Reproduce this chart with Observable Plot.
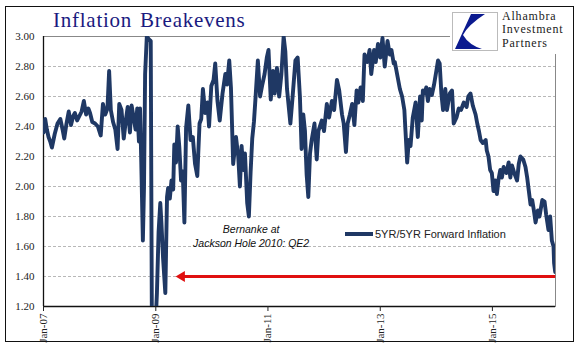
<!DOCTYPE html>
<html>
<head>
<meta charset="utf-8">
<script src="https://cdn.jsdelivr.net/npm/d3@7"></script>
<script src="https://cdn.jsdelivr.net/npm/@observablehq/plot@0.6"></script>
<style>
  html, body { margin: 0; padding: 0; background: #fff; }
  #wrap { position: relative; width: 581px; height: 361px; overflow: hidden; background: #fff; }
  #outer { position: absolute; left: 5px; top: 6px; width: 569px; height: 336px; border: 1.3px solid #111; box-sizing: border-box; pointer-events: none; }
  #title { position: absolute; left: 53px; top: 8px; font-family: "Liberation Serif", "DejaVu Serif", serif; font-size: 21px; color: #1a1a80; letter-spacing: 0.75px; word-spacing: 2px; white-space: nowrap; }
  #logo { position: absolute; left: 450px; top: 8px; width: 123px; height: 46px; background: #fff; }
  #logo svg { position: absolute; left: 2px; top: 4px; }
  #logoText { position: absolute; left: 52px; top: 2px; font-family: "Liberation Serif", "DejaVu Serif", serif; font-size: 12px; line-height: 13.4px; letter-spacing: 0.8px; color: #222; white-space: nowrap; }
  #logoText div { height: 13.4px; }
  #legend { position: absolute; left: 345px; top: 228px; display: flex; align-items: center; font-family: "Liberation Sans", Arial, sans-serif; font-size: 11px; color: #222; white-space: nowrap; }
  #legend .sw { width: 28px; height: 3.5px; background: #1f3864; margin-right: 2px; }
  #plot { position: absolute; left: 0; top: 0; }
</style>
</head>
<body>
<div id="wrap">
  <div id="plot"></div>
  <div id="title">Inflation Breakevens</div>
  <div id="logo">
    <svg width="46" height="39" viewBox="0 0 46 39">
      <rect x="0.5" y="0.5" width="45" height="38" fill="#fff" stroke="#bbb" stroke-width="1"/>
      <path d="M19,2 L33,2 Q16,13 11,23 Q17,33 30,37 L3,37 Z" fill="#0b1a8f"/>
    </svg>
    <div id="logoText"><div>Alhambra</div><div>Investment</div><div>Partners</div></div>
  </div>
  <div id="legend"><div class="sw"></div><span>5YR/5YR Forward Inflation</span></div>
  <div id="outer"></div>
</div>
<script>
// ---- data (decimal year, value) ----
const years = [
  2007.00,2007.03,2007.06,2007.09,2007.12,2007.15,2007.20,2007.25,2007.30,2007.34,
  2007.37,2007.41,2007.45,2007.49,2007.53,2007.56,2007.60,2007.64,2007.68,2007.72,
  2007.76,2007.80,2007.83,2007.87,2007.92,2007.97,2008.02,2008.06,2008.10,2008.14,
  2008.17,2008.20,2008.24,2008.28,2008.32,2008.35,2008.39,2008.43,2008.47,2008.50,
  2008.54,2008.57,2008.61,2008.64,2008.67,2008.70,2008.72,2008.74,2008.77,2008.79,
  2008.81,2008.84,2008.88,2008.91,2008.93,2008.97,2009.00,2009.02,2009.05,2009.08,
  2009.10,2009.13,2009.17,2009.20,2009.22,2009.25,2009.28,2009.31,2009.33,2009.36,
  2009.39,2009.42,2009.45,2009.48,2009.51,2009.54,2009.58,2009.62,2009.66,2009.70,
  2009.74,2009.78,2009.81,2009.84,2009.88,2009.92,2009.95,2009.99,2010.03,2010.06,
  2010.10,2010.14,2010.19,2010.24,2010.27,2010.31,2010.34,2010.38,2010.43,2010.47,
  2010.50,2010.53,2010.56,2010.59,2010.63,2010.66,2010.69,2010.72,2010.75,2010.78,
  2010.82,2010.86,2010.90,2010.94,2010.98,2011.01,2011.05,2011.09,2011.12,2011.16,
  2011.20,2011.24,2011.28,2011.31,2011.34,2011.40,2011.44,2011.49,2011.53,2011.57,
  2011.60,2011.63,2011.66,2011.69,2011.72,2011.75,2011.78,2011.83,2011.87,2011.90,
  2011.96,2012.00,2012.05,2012.09,2012.14,2012.18,2012.23,2012.27,2012.32,2012.35,
  2012.39,2012.42,2012.46,2012.50,2012.54,2012.58,2012.61,2012.65,2012.69,2012.72,
  2012.77,2012.81,2012.84,2012.89,2012.92,2012.96,2013.00,2013.04,2013.08,2013.13,
  2013.17,2013.20,2013.24,2013.26,2013.31,2013.35,2013.39,2013.43,2013.45,2013.48,
  2013.51,2013.54,2013.58,2013.63,2013.67,2013.71,2013.74,2013.76,2013.79,2013.82,
  2013.85,2013.88,2013.92,2013.96,2014.00,2014.03,2014.06,2014.09,2014.12,2014.16,
  2014.19,2014.24,2014.28,2014.31,2014.36,2014.40,2014.44,2014.49,2014.54,2014.57,
  2014.61,2014.65,2014.70,2014.73,2014.76,2014.79,2014.83,2014.88,2014.90,2014.93,
  2014.96,2014.99,2015.02,2015.05,2015.08,2015.11,2015.14,2015.17,2015.20,2015.25,
  2015.29,2015.32,2015.35,2015.39,2015.44,2015.47,2015.50,2015.55,2015.59,2015.62,
  2015.65,2015.68,2015.71,2015.74,2015.77,2015.81,2015.84,2015.89,2015.93,2015.96,
  2016.00,2016.03,2016.06,2016.09,2016.10,2016.12
];
const breakevens = [
  2.36,2.45,2.38,2.33,2.30,2.26,2.35,2.42,2.45,2.38,
  2.32,2.42,2.50,2.41,2.47,2.49,2.44,2.47,2.50,2.57,
  2.48,2.52,2.49,2.43,2.42,2.40,2.34,2.55,2.48,2.52,
  2.77,2.51,2.43,2.38,2.25,2.55,2.51,2.32,2.45,2.53,
  2.36,2.54,2.45,2.38,2.52,2.30,2.52,2.19,1.64,1.99,
  2.75,3.00,2.98,2.97,1.10,1.02,1.12,1.29,1.70,1.89,
  1.76,1.52,1.29,1.93,1.99,1.92,2.04,1.98,2.28,2.16,
  2.40,2.26,2.04,2.10,1.76,2.39,2.54,2.31,2.33,2.15,
  2.07,2.42,2.45,2.65,2.49,2.56,2.40,2.67,2.71,2.82,
  2.57,2.44,2.62,2.75,2.68,2.84,2.66,2.15,2.33,2.20,
  2.00,2.27,2.11,2.22,1.89,1.80,2.09,2.32,2.43,2.60,
  2.84,2.60,2.68,2.75,2.86,2.91,2.58,2.77,2.62,2.79,
  2.60,2.75,3.00,2.90,2.65,2.42,2.60,2.84,2.86,2.60,
  2.25,2.48,2.37,2.08,1.93,2.22,2.31,2.42,2.18,2.37,
  2.44,2.37,2.55,2.46,2.57,2.51,2.71,2.64,2.48,2.42,
  2.23,2.42,2.48,2.55,2.41,2.64,2.56,2.66,2.57,2.88,
  2.83,2.91,2.75,2.91,2.83,2.95,2.86,2.99,2.80,2.97,
  2.88,2.91,2.82,2.83,2.73,2.65,2.60,2.51,2.37,2.16,
  2.31,2.27,2.46,2.56,2.33,2.60,2.44,2.64,2.62,2.66,
  2.57,2.65,2.61,2.68,2.77,2.84,2.82,2.62,2.51,2.65,
  2.51,2.62,2.64,2.42,2.46,2.52,2.51,2.56,2.53,2.60,
  2.62,2.54,2.48,2.42,2.37,2.31,2.29,2.31,2.24,2.20,
  2.11,2.09,1.97,2.04,1.95,2.05,2.11,2.06,2.13,2.09,
  2.16,2.06,2.14,2.09,2.04,2.15,2.20,2.18,2.13,2.06,
  1.97,1.88,1.91,1.84,1.76,1.84,1.80,1.91,1.90,1.81,
  1.71,1.80,1.64,1.60,1.49,1.43
];
const seriesName = "5YR/5YR Forward Inflation";
const yTicks = [1.20, 1.40, 1.60, 1.80, 2.00, 2.20, 2.40, 2.60, 2.80, 3.00];
const xTickYears = [2007, 2009, 2011, 2013, 2015];
const xDomainYears = [2007.0, 2016.125];
const yDomain = [1.2, 3.0];
const arrowFromYear = 2016.12;
const arrowToYear = 2009.41;
const arrowLevel = 1.40;
const noteYear = 2010.70;
const noteLevel = 1.675;
const noteText = "Bernanke at\nJackson Hole 2010: QE2";

// ---- helpers ----
const toDate = y => {
  const yr = Math.floor(y);
  const s = Date.UTC(yr, 0, 1), e = Date.UTC(yr + 1, 0, 1);
  return new Date(s + (y - yr) * (e - s));
};
const data = years.map((y, i) => ({date: toDate(y), value: breakevens[i]}));
const navy = "#1f3864";
const red = "#e01010";

const chart = Plot.plot({
  width: 581,
  height: 361,
  marginLeft: 43,
  marginRight: 26,
  marginTop: 36,
  marginBottom: 55,
  style: {fontFamily: "'Liberation Serif', 'DejaVu Serif', serif", fontSize: "11px", color: "#222", background: "transparent"},
  x: {type: "utc", domain: xDomainYears.map(toDate)},
  y: {domain: yDomain},
  marks: [
    Plot.gridY(yTicks.slice(0, -1), {stroke: "#999", strokeOpacity: 1, strokeWidth: 0.7, strokeDasharray: "3,2"}),
    Plot.frame({stroke: "#888", strokeWidth: 1}),
    Plot.ruleY([yDomain[0]], {stroke: "#111", strokeWidth: 1.3}),
    Plot.ruleX([toDate(xDomainYears[0])], {stroke: "#111", strokeWidth: 1.3}),
    Plot.axisY(yTicks, {tickSize: 0, tickPadding: 9, tickFormat: d3.format(".2f"), fontSize: 11}),
    Plot.axisX(xTickYears.map(toDate), {
      tickSize: 5, tickPadding: 2, tickRotate: -90, fontSize: 11, fill: "#222",
      tickFormat: d => "Jan-" + String(d.getUTCFullYear()).slice(2)
    }),
    Plot.line(data, {x: "date", y: "value", stroke: navy, strokeWidth: 3.9, strokeLinejoin: "round", strokeLinecap: "round", clip: true}),
    Plot.link([{x1: toDate(arrowFromYear), x2: toDate(arrowToYear), y: arrowLevel}], {
      x1: "x1", x2: "x2", y1: "y", y2: "y", stroke: red, strokeWidth: 3
    }),
    Plot.dot([{x: toDate(arrowToYear), y: arrowLevel}], {
      x: "x", y: "y", symbol: "triangle", r: 4, rotate: -90, fill: red, stroke: "none", dx: 3
    }),
    Plot.text([{x: toDate(noteYear), y: noteLevel, t: noteText}], {
      x: "x", y: "y", text: "t", fontFamily: "'Liberation Sans', Arial, sans-serif", fontStyle: "italic",
      fontSize: 10.5, fill: "#111", lineHeight: 1.4, textAnchor: "middle"
    })
  ]
});
document.getElementById("plot").appendChild(chart);
</script>
</body>
</html>
